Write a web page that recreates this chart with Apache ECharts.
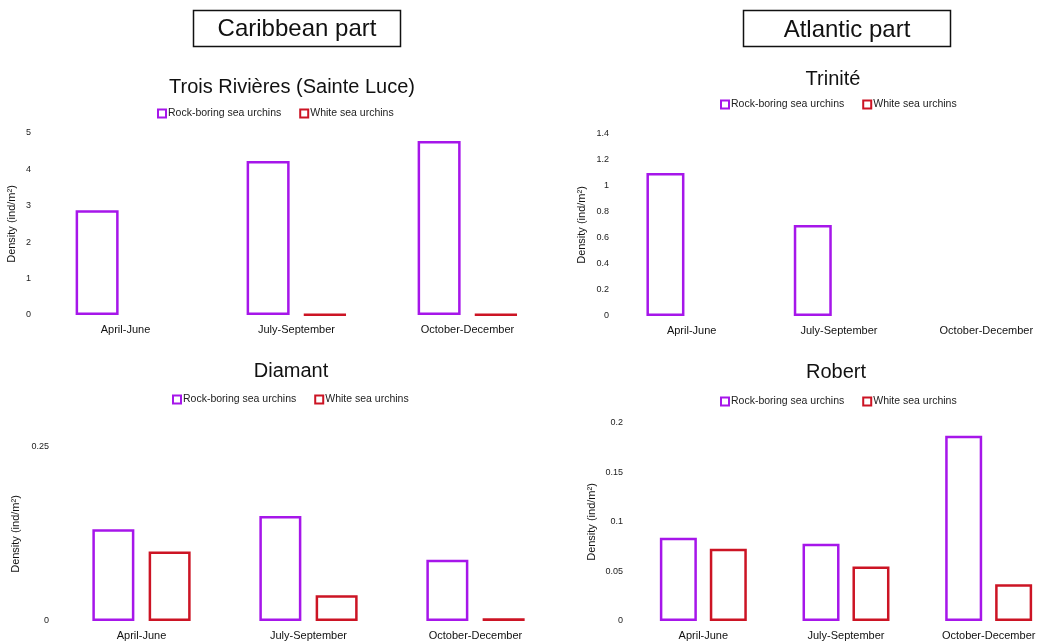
<!DOCTYPE html>
<html>
<head>
<meta charset="utf-8">
<script src="https://cdn.jsdelivr.net/npm/echarts@6/dist/echarts.min.js"></script>
<style>
    html, body { margin: 0; padding: 0; background: #fff; }
    #chart { width: 1060px; height: 643px; }
</style>
</head>
<body>
<div id="chart"></div>
<script>
// seasons shared by all four sites
const categories = ['April-June', 'July-September', 'October-December']
const seriesNames = ['Rock-boring sea urchins', 'White sea urchins']

// densities (ind/m2)
const troisRock = [2.88, 4.23, 4.78]
const troisWhite = [null, 0.02, 0.02]
const triniteRock = [1.1, 0.7, null]
const triniteWhite = [null, null, null]
const diamantRock = [0.132, 0.151, 0.088]
const diamantWhite = [0.1, 0.037, 0.004]
const robertRock = [0.084, 0.078, 0.187]
const robertWhite = [0.073, 0.055, 0.037]

// y axis ranges per panel
const troisAxis = { max: 5, interval: 1 }
const triniteAxis = { max: 1.4, interval: 0.2 }
const diamantAxis = { max: 0.25, interval: 0.25 }
const robertAxis = { max: 0.2, interval: 0.05 }

const purple = '#A616EA'
const red = '#CC1424'
const font = '"Liberation Sans", Arial, sans-serif'

// one block per site: grid box, title spot, legend spot
const panels = [
    { title: 'Trois Rivières (Sainte Luce)', tx: 287, ty: 72, lx: 152, ly: 103,
      grid: { left: 40, top: 133, width: 513, height: 182 }, axis: troisAxis, nameGap: 23,
      barWidth: 43, barGap: '32%', rock: troisRock, white: troisWhite },
    { title: 'Trinité', tx: 828, ty: 64, lx: 715, ly: 94,
      grid: { left: 618, top: 134, width: 450, height: 182 }, axis: triniteAxis, nameGap: 31,
      barWidth: 38, barGap: '38%', rock: triniteRock, white: triniteWhite },
    { title: 'Diamant', tx: 286, ty: 356, lx: 167, ly: 389,
      grid: { left: 58, top: 447, width: 501, height: 174 }, axis: diamantAxis, nameGap: 37,
      barWidth: 42, barGap: '34%', rock: diamantRock, white: diamantWhite },
    { title: 'Robert', tx: 831, ty: 357, lx: 715, ly: 391,
      grid: { left: 632, top: 423, width: 444, height: 198 }, axis: robertAxis, nameGap: 35,
      barWidth: 37, barGap: '35%', rock: robertRock, white: robertWhite }
]

const chart = echarts.init(document.getElementById('chart'))

const option = {
    animation: false,
    backgroundColor: '#fff',
    textStyle: { fontFamily: font },
    title: panels.map(p => ({
        text: p.title,
        left: p.tx,
        top: p.ty,
        textAlign: 'center',
        textStyle: { fontFamily: font, fontSize: 20, fontWeight: 'normal', color: '#111' }
    })),
    legend: panels.map((p, i) => ({
        left: p.lx,
        top: p.ly,
        itemWidth: 8,
        itemHeight: 8,
        itemGap: 18,
        selectedMode: false,
        data: seriesNames.map(n => ({ name: n, icon: 'rect' })),
        textStyle: { fontFamily: font, fontSize: 10.5, color: '#222', padding: [0, 0, 0, -3] }
    })),
    grid: panels.map(p => Object.assign({ containLabel: false }, p.grid)),
    xAxis: panels.map((p, i) => ({
        type: 'category',
        gridIndex: i,
        data: categories,
        axisLine: { show: false },
        axisTick: { show: false },
        axisLabel: { color: '#111', fontSize: 11, margin: 9, interval: 0 }
    })),
    yAxis: panels.map((p, i) => ({
        type: 'value',
        gridIndex: i,
        min: 0,
        max: p.axis.max,
        interval: p.axis.interval,
        name: 'Density (ind/m²)',
        nameLocation: 'middle',
        nameGap: p.nameGap,
        nameTextStyle: { color: '#111', fontSize: 11 },
        splitLine: { show: false },
        axisLine: { show: false },
        axisTick: { show: false },
        axisLabel: { color: '#222', fontSize: 9, margin: 9 }
    })),
    series: []
}

panels.forEach((p, i) => {
    option.series.push({
        name: seriesNames[0],
        type: 'bar',
        xAxisIndex: i,
        yAxisIndex: i,
        barWidth: p.barWidth,
        barGap: p.barGap,
        itemStyle: { color: '#fff', borderColor: purple, borderWidth: 2.5 },
        data: p.rock
    }, {
        name: seriesNames[1],
        type: 'bar',
        xAxisIndex: i,
        yAxisIndex: i,
        barWidth: p.barWidth,
        barGap: p.barGap,
        itemStyle: { color: '#fff', borderColor: red, borderWidth: 2.5 },
        data: p.white
    })
})

// the two boxed headers above the columns
option.graphic = [
    { type: 'rect', shape: { x: 193.5, y: 10.5, width: 207, height: 36 },
      style: { fill: '#fff', stroke: '#111', lineWidth: 1.5 } },
    { type: 'text', x: 297, y: 29,
      style: { text: 'Caribbean part', font: '24px ' + font, fill: '#111', textAlign: 'center', textVerticalAlign: 'middle' } },
    { type: 'rect', shape: { x: 743.5, y: 10.5, width: 207, height: 36 },
      style: { fill: '#fff', stroke: '#111', lineWidth: 1.5 } },
    { type: 'text', x: 847, y: 30,
      style: { text: 'Atlantic part', font: '24px ' + font, fill: '#111', textAlign: 'center', textVerticalAlign: 'middle' } }
]

chart.setOption(option)
</script>
</body>
</html>
